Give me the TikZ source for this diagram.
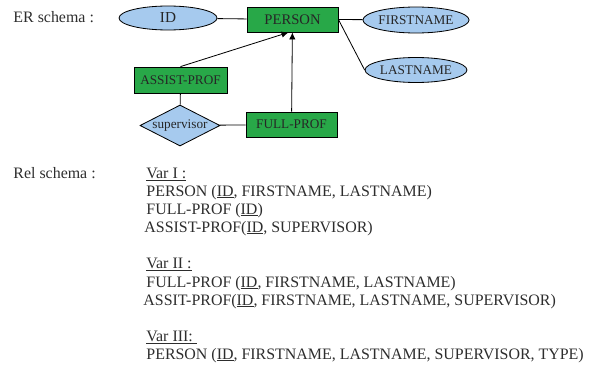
\documentclass[tikz,border=0pt]{standalone}
\usepackage{fontspec}
\setmainfont{Liberation Serif}
\usetikzlibrary{shapes.geometric, arrows.meta}
\definecolor{entgreen}{RGB}{40,168,72}
\definecolor{attblue}{RGB}{166,202,238}
\definecolor{inkgray}{RGB}{45,45,45}
\tikzset{
  entity/.style={draw, fill=entgreen, rectangle, inner sep=0pt, text=black!85, font=\fontsize{11.3}{13}\selectfont},
  attrib/.style={draw, fill=attblue, ellipse, inner sep=0pt, minimum width=2.94cm, text=black!85, font=\fontsize{11.3}{13}\selectfont},
  relship/.style={draw, fill=attblue, diamond, aspect=2, inner sep=0pt, minimum width=2.4cm, minimum height=1.23cm, text=black!85, font=\fontsize{11.3}{13}\selectfont},
  label/.style={anchor=base west, inner sep=0pt, text=inkgray, font=\fontsize{13.6}{16}\selectfont},
}
\begin{document}
\begin{tikzpicture}[x=0.03cm, y=-0.03cm, line width=0.7pt, >={Latex[length=6pt,width=5.5pt]}]
            \useasboundingbox (0,0) rectangle (596,368);
            % ER part
            \node[label] (er) at (13,23) {ER schema :};
            \node[entity, minimum width=2.73cm, minimum height=0.75cm, font=\fontsize{12.5}{14}\selectfont] (person) at (292.5,19.5) {PERSON};
            \node[attrib, minimum height=0.72cm, font=\fontsize{13}{15}\selectfont] (id) at (168,18) {ID};
            \node[attrib, minimum height=0.78cm] (first) at (416,20) {FIRSTNAME};
            \node[attrib, minimum height=0.75cm] (last) at (416,70) {LASTNAME};
            \node[entity, minimum width=2.79cm, minimum height=0.78cm] (assist) at (180.5,80) {ASSIST-PROF};
            \node[entity, minimum width=2.73cm, minimum height=0.75cm] (full) at (291.5,124.5) {FULL-PROF};
            \node[relship] (sup) at (180,125.5) {supervisor};

            \path
            (id) edge (person)
            (person.east) edge (first)
            (person.east) edge (last.west)
            (assist) edge (sup)
            (sup) edge (full);
            \path[->]
            (assist.north) edge ([xshift=-0.12cm]person.south)
            (full) edge (person);

            % relational part
            \node[label] (rel) at (13,178) {Rel schema :};
            \node[label] (v1) at (146,178) {\underline{Var I :}};
            \node[label] (v1a) at (146,196) {PERSON (\underline{ID}, FIRSTNAME, LASTNAME)};
            \node[label] (v1b) at (146,214) {FULL-PROF (\underline{ID})};
            \node[label] (v1c) at (144,232) {ASSIST-PROF(\underline{ID}, SUPERVISOR)};
            \node[label] (v2) at (146,268) {\underline{Var II :}};
            \node[label] (v2a) at (146,287) {FULL-PROF (\underline{ID}, FIRSTNAME, LASTNAME)};
            \node[label] (v2b) at (143,305) {ASSIT-PROF(\underline{ID}, FIRSTNAME, LASTNAME, SUPERVISOR)};
            \node[label] (v3) at (146,341) {\underline{Var III:\ }};
            \node[label] (v3a) at (146,359) {PERSON (\underline{ID}, FIRSTNAME, LASTNAME, SUPERVISOR, TYPE)};
\end{tikzpicture}
\end{document}
